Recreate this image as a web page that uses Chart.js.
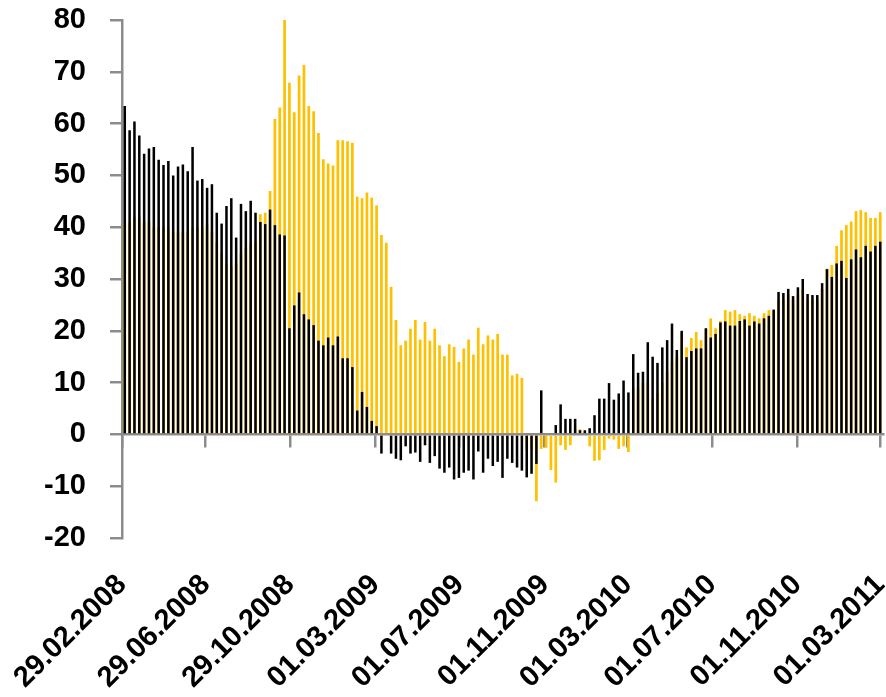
<!DOCTYPE html>
<html>
<head>
<meta charset="utf-8">
<script src="https://cdn.jsdelivr.net/npm/chart.js@4.4.0/dist/chart.umd.min.js"></script>
<style>
  html, body { margin: 0; padding: 0; background: #fff; }
  #wrap { width: 886px; height: 697px; }
</style>
</head>
<body>
<div id="wrap"><canvas id="chart"></canvas></div>
<script>
// weekly data, first bar date
const firstWeek = "04.03.2008";

// axis labels (every 4 months)
const tickLabels = [
    "29.02.2008", "29.06.2008", "29.10.2008", "01.03.2009", "01.07.2009",
    "01.11.2009", "01.03.2010", "01.07.2010", "01.11.2010", "01.03.2011"
];

// black series (front)
const blackValues = [
    63.4, 58.7, 60.4, 57.7, 54.2, 55.2, 55.5, 53.0, 52.0, 52.8,
    50.0, 51.7, 52.1, 50.8, 55.5, 49.0, 49.3, 47.6, 48.3, 42.8,
    40.7, 44.1, 45.6, 38.0, 44.5, 43.1, 45.1, 42.8, 41.0, 40.6,
    43.4, 40.4, 38.6, 38.4, 20.5, 24.9, 27.4, 23.2, 22.2, 21.1,
    18.1, 17.2, 18.7, 17.2, 18.9, 14.7, 14.7, 13.0, 4.6, 8.2,
    5.3, 2.6, 1.6, -3.7, 0, -3.7, -4.7, -5.0, -2.3, -3.7,
    -3.5, -5.3, -2.1, -5.5, -4.2, -6.6, -7.4, -6.4, -8.7, -8.4,
    -7.4, -7.0, -8.7, -3.3, -7.4, -4.7, -6.1, -5.3, -8.4, -4.7,
    -5.5, -6.4, -7.0, -8.3, -7.6, -5.7, 8.5, 0, 0, 1.8,
    5.8, 3.0, 3.0, 3.0, 0.8, 0.8, 1.2, 3.7, 6.9, 6.9,
    9.9, 6.7, 7.9, 10.4, 8.1, 15.5, 11.9, 12.1, 17.8, 15.0,
    13.8, 16.8, 18.2, 21.4, 16.3, 20.0, 14.9, 16.1, 16.6, 16.6,
    20.5, 18.7, 19.4, 21.6, 21.8, 21.0, 21.0, 21.9, 22.2, 21.0,
    21.8, 21.4, 22.4, 22.9, 24.1, 27.5, 27.3, 28.1, 26.7, 28.4,
    30.0, 27.1, 26.9, 26.9, 29.2, 31.9, 30.4, 33.0, 33.5, 30.2,
    33.8, 35.7, 34.2, 36.4, 35.3, 36.4, 37.2
];

// yellow series (behind)
const yellowValues = [
    41.0, 41.0, 42.0, 42.0, 41.0, 41.0, 40.0, 40.0, 40.0, 40.0,
    39.0, 39.0, 39.0, 39.0, 40.0, 40.0, 40.0, 40.5, 39.0, 37.0,
    35.0, 33.0, 32.5, 33.0, 35.0, 36.0, 37.0, 37.3, 42.5, 42.8,
    47.0, 60.9, 63.1, 80.0, 67.9, 62.2, 69.3, 71.3, 63.4, 62.4,
    58.2, 53.1, 52.3, 51.9, 56.8, 56.8, 56.6, 56.3, 45.9, 45.6,
    46.7, 45.7, 44.2, 38.5, 37.0, 28.5, 22.1, 17.2, 18.1, 20.4,
    22.1, 18.3, 21.7, 18.1, 20.4, 17.2, 15.1, 17.4, 16.9, 14.0,
    16.6, 18.3, 15.4, 20.6, 17.4, 19.1, 18.3, 19.4, 15.4, 15.4,
    11.4, 11.7, 10.9, -3.0, -3.0, -12.9, -2.8, -2.6, -6.9, -9.3,
    -2.1, -3.0, -2.1, 1.0, 1.0, 0.5, -2.3, -5.1, -5.0, -3.0,
    -0.8, -1.0, -2.8, -2.3, -3.4, 9.0, 9.0, 10.0, 10.0, 7.0,
    8.0, 10.0, 12.0, 14.0, 15.0, 19.5, 16.8, 18.6, 19.8, 18.2,
    20.3, 22.4, 20.5, 21.9, 24.0, 23.7, 24.0, 23.2, 22.9, 23.4,
    22.9, 22.4, 23.4, 24.0, 23.9, 26.0, 26.0, 27.0, 26.0, 27.0,
    28.0, 26.0, 26.0, 26.0, 28.0, 32.0, 32.7, 36.4, 39.4, 40.4,
    41.1, 43.1, 43.3, 42.9, 41.8, 41.8, 42.9
];

const yMin = -20;
const yMax = 80;
const yStep = 10;

// days since first axis date
function toDays(s) {
    const [d, m, y] = s.split(".").map(Number);
    const [d0, m0, y0] = tickLabels[0].split(".").map(Number);
    return Math.round((Date.UTC(y, m - 1, d) - Date.UTC(y0, m0 - 1, d0)) / 86400000);
}

const tickDays = tickLabels.map(toDays);
const startDay = toDays(firstWeek);
const weekDays = blackValues.map((_, i) => startDay + 7 * i);
const xMax = weekDays[weekDays.length - 1] + 4;

const axisGray = "#8c8c8c";
const labelFont = { family: "'Liberation Sans', Arial, sans-serif", size: 29, weight: "bold" };

function setTicks(scale) {
    scale.ticks = tickDays.map((v) => ({ value: v }));
}

const ctx = document.getElementById("chart").getContext("2d");
new Chart(ctx, {
    type: "bar",
    data: {
        datasets: [
            {
                label: "black",
                data: blackValues.map((v, i) => ({ x: weekDays[i], y: v })),
                backgroundColor: "#000000",
                grouped: false,
                barPercentage: 0.52,
                categoryPercentage: 1,
            },
            {
                label: "yellow",
                data: yellowValues.map((v, i) => ({ x: weekDays[i], y: v })),
                backgroundColor: "#ffc000",
                grouped: false,
                barPercentage: 0.56,
                categoryPercentage: 1,
            },
        ],
    },
    options: {
        responsive: true,
        maintainAspectRatio: false,
        animation: false,
        layout: { padding: { top: 20, right: 3, bottom: 0, left: 0 } },
        plugins: {
            legend: { display: false },
            tooltip: { enabled: false },
        },
        scales: {
            x: {
                type: "linear",
                position: "bottom",
                offset: false,
                min: 0,
                max: xMax,
                afterBuildTicks: setTicks,
                afterFit: (scale) => {
                    scale.height = 159;
                    scale.paddingLeft = 0;
                    scale.paddingRight = 0;
                },
                grid: { display: false, offset: false },
                border: { display: false },
                ticks: {
                    autoSkip: false,
                    minRotation: 45,
                    maxRotation: 45,
                    padding: 22,
                    color: "#000",
                    font: labelFont,
                    callback: (v, i) => tickLabels[i],
                },
            },
            x2: {
                type: "linear",
                axis: "x",
                position: { y: 0 },
                offset: false,
                min: 0,
                max: xMax,
                afterBuildTicks: setTicks,
                grid: { drawOnChartArea: false, drawTicks: true, offset: false, tickLength: 12, color: axisGray, lineWidth: 2.5 },
                border: { color: axisGray, width: 2.5 },
                ticks: { display: false },
            },
            y: {
                min: yMin,
                max: yMax,
                afterFit: (scale) => {
                    scale.width = 122;
                    scale.paddingTop = 0;
                    scale.paddingBottom = 0;
                },
                grid: { drawOnChartArea: false, tickLength: 12, color: axisGray, lineWidth: 2.5 },
                border: { color: axisGray, width: 2.5 },
                ticks: {
                    stepSize: yStep,
                    padding: 24,
                    color: "#000",
                    font: labelFont,
                },
            },
        },
    },
});
</script>
</body>
</html>
